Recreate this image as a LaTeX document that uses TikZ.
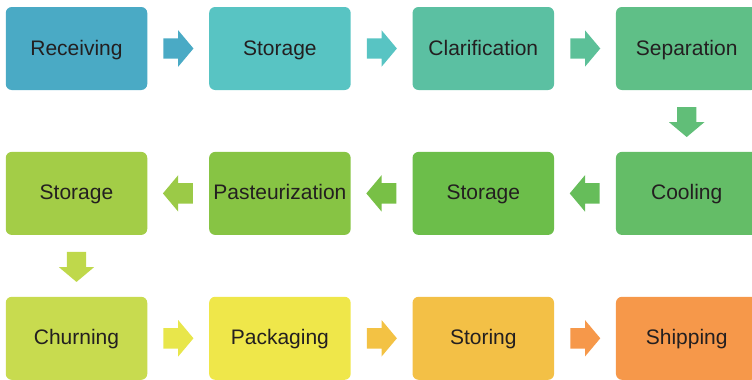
\documentclass[tikz,border=0pt]{standalone}
\usepackage{fontspec}
\setmainfont{Liberation Sans}
\usetikzlibrary{positioning,shapes.arrows}
\definecolor{txt}{HTML}{231F20}
% box colours
\definecolor{cRec}{HTML}{4AAAC5}
\definecolor{cStoA}{HTML}{58C4C3}
\definecolor{cCla}{HTML}{5BC0A2}
\definecolor{cSep}{HTML}{5FBF87}
\definecolor{cCoo}{HTML}{64BD67}
\definecolor{cStoB}{HTML}{6CBE4A}
\definecolor{cPas}{HTML}{87C444}
\definecolor{cStoC}{HTML}{A3CD47}
\definecolor{cChu}{HTML}{C8DB4F}
\definecolor{cPac}{HTML}{EFE74A}
\definecolor{cSto}{HTML}{F3C046}
\definecolor{cShi}{HTML}{F6984A}
% arrow colours
\definecolor{aOne}{HTML}{4AAAC5}
\definecolor{aTwo}{HTML}{58C4C3}
\definecolor{aThree}{HTML}{5CC098}
\definecolor{aFour}{HTML}{61BE78}
\definecolor{aFive}{HTML}{66BD5A}
\definecolor{aSix}{HTML}{78C046}
\definecolor{aSeven}{HTML}{9BCA47}
\definecolor{aEight}{HTML}{BFD84B}
\definecolor{aNine}{HTML}{E8E64B}
\definecolor{aTen}{HTML}{F3C244}
\definecolor{aEleven}{HTML}{F6984A}

\begin{document}
\begin{tikzpicture}[x=1pt, y=-1pt, node distance=61.5pt,
    stepbox/.style={rounded corners=6pt, minimum width=141.5pt, minimum height=83pt,
      inner sep=0pt, text height=16pt, text depth=3pt, text=txt,
      font=\fontsize{21}{25}\selectfont},
    blockarrow/.style={single arrow, minimum height=30pt, text height=0pt, text depth=0pt,
      single arrow head extend=8pt, single arrow tip angle=100},
    rarrow/.style={blockarrow, inner xsep=0pt, inner ysep=10pt, xshift=-4pt},
    larrow/.style={blockarrow, inner xsep=0pt, inner ysep=10pt, xshift=4pt,
      shape border rotate=180},
    darrow/.style={blockarrow, inner xsep=9.5pt, inner ysep=0pt, yshift=3pt,
      shape border rotate=270}]
    \useasboundingbox (0,0) rectangle (752,380);
    % first row
    \node[stepbox, fill=cRec] (rec) at (76.5,48.5) {Receiving};
    \node[stepbox, fill=cStoA, right=of rec] (stoA) {Storage};
    \node[stepbox, fill=cCla, right=of stoA] (cla) {Clarification};
    \node[stepbox, fill=cSep, right=of cla] (sep) {Separation};
    % second row, right to left
    \node[stepbox, fill=cCoo, below=of sep] (coo) {Cooling};
    \node[stepbox, fill=cStoB, left=of coo] (stoB) {Storage};
    \node[stepbox, fill=cPas, left=of stoB] (pas) {Pasteurization};
    \node[stepbox, fill=cStoC, left=of pas] (stoC) {Storage};
    % third row
    \node[stepbox, fill=cChu, below=of stoC] (chu) {Churning};
    \node[stepbox, fill=cPac, right=of chu] (pac) {Packaging};
    \node[stepbox, fill=cSto, right=of pac] (sto) {Storing};
    \node[stepbox, fill=cShi, right=of sto] (shi) {Shipping};
    % block arrows
    \path (rec) -- node[rarrow, fill=aOne] {} (stoA);
    \path (stoA) -- node[rarrow, fill=aTwo] {} (cla);
    \path (cla) -- node[rarrow, fill=aThree] {} (sep);
    \path (sep) -- node[darrow, fill=aFour] {} (coo);
    \path (coo) -- node[larrow, fill=aFive] {} (stoB);
    \path (stoB) -- node[larrow, fill=aSix] {} (pas);
    \path (pas) -- node[larrow, fill=aSeven] {} (stoC);
    \path (stoC) -- node[darrow, fill=aEight] {} (chu);
    \path (chu) -- node[rarrow, fill=aNine] {} (pac);
    \path (pac) -- node[rarrow, fill=aTen] {} (sto);
    \path (sto) -- node[rarrow, fill=aEleven] {} (shi);
\end{tikzpicture}
\end{document}
